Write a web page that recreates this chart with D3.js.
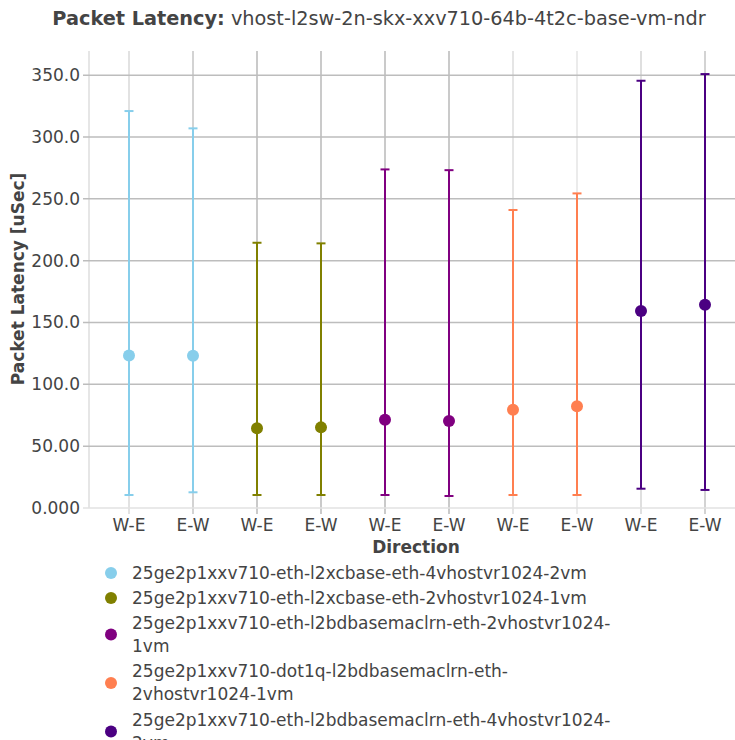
<!DOCTYPE html>
<html>
<head>
<meta charset="utf-8">
<script src="https://cdn.jsdelivr.net/npm/d3@7"></script>
<style>
  body { margin: 0; background: #fff; }
  text { font-family: "DejaVu Sans", sans-serif; fill: #444; }
</style>
</head>
<body>
<div id="chart"></div>
<script>
// categories (x positions) and tick labels
var directions = ['W-E', 'E-W', 'W-E', 'E-W', 'W-E', 'E-W', 'W-E', 'E-W', 'W-E', 'E-W'];
var yTicks = [0, 50, 100, 150, 200, 250, 300, 350];
var yTickLabels = ['0.000', '50.00', '100.0', '150.0', '200.0', '250.0', '300.0', '350.0'];

// series
var seriesNames = [
	['25ge2p1xxv710-eth-l2xcbase-eth-4vhostvr1024-2vm'],
	['25ge2p1xxv710-eth-l2xcbase-eth-2vhostvr1024-1vm'],
	['25ge2p1xxv710-eth-l2bdbasemaclrn-eth-2vhostvr1024-', '1vm'],
	['25ge2p1xxv710-dot1q-l2bdbasemaclrn-eth-', '2vhostvr1024-1vm'],
	['25ge2p1xxv710-eth-l2bdbasemaclrn-eth-4vhostvr1024-', '2vm']
];
var seriesColors = ['#87ceeb', '#808000', '#800080', '#ff7f50', '#4b0082'];
// each series has two points: W-E, E-W
var seriesIndex = [[0, 1], [2, 3], [4, 5], [6, 7], [8, 9]];
var avgValues = [[123.4, 123.2], [64.4, 65.2], [71.4, 70.3], [79.5, 82.2], [159.3, 164.4]];
var minValues = [[10.5, 12.7], [10.5, 10.5], [10.5, 9.7], [10.5, 10.5], [15.6, 14.6]];
var maxValues = [[321, 307], [214.5, 214], [273.8, 273.2], [241, 254.4], [345.5, 350.9]];

var width = 735, height = 740;
var plotLeft = 89, plotTop = 51, plotBottom = 508, plotRight = 737;
var fontSize = '17px';

var svg = d3.select('#chart').append('svg')
	.attr('width', width)
	.attr('height', height);

var x = d3.scaleLinear().domain([-0.625, 9.5]).range([plotLeft, plotRight]);
var y = d3.scaleLinear().domain([0, 350]).range([plotBottom, plotBottom - 350 * 1.2366]);

// vertical gridlines (category lines) + ticks below the axis
var gridShade = ['#d9d9d9', '#c4c4c4', '#b8b8b8', '#b8b8b8', '#b8b8b8', '#b8b8b8', '#dcdcdc', '#e4e4e4', '#d4d4d4', '#c4c4c4'];
svg.append('g').selectAll('line')
	.data(directions)
	.enter()
	.append('line')
	.attr('x1', function(d, i){ return x(i); })
	.attr('x2', function(d, i){ return x(i); })
	.attr('y1', plotTop)
	.attr('y2', plotBottom + 6)
	.attr('stroke', function(d, i){ return gridShade[i]; })
	.attr('stroke-width', 1.5);

// left plot edge line
svg.append('line')
	.attr('x1', plotLeft).attr('x2', plotLeft)
	.attr('y1', plotTop).attr('y2', plotBottom)
	.attr('stroke', '#dedede').attr('stroke-width', 1.5);

// horizontal gridlines
svg.append('g').selectAll('line')
	.data(yTicks)
	.enter()
	.append('line')
	.attr('x1', plotLeft - 6)
	.attr('x2', width)
	.attr('y1', function(d){ return y(d); })
	.attr('y2', function(d){ return y(d); })
	.attr('stroke', function(d){ return d == 0 ? '#e2e2e2' : '#bdbdbd'; })
	.attr('stroke-width', 1.5);

// y tick labels
svg.append('g').selectAll('text')
	.data(yTicks)
	.enter()
	.append('text')
	.attr('x', plotLeft - 9)
	.attr('y', function(d){ return y(d); })
	.attr('dy', '0.35em')
	.attr('text-anchor', 'end')
	.style('font-size', fontSize)
	.text(function(d, i){ return yTickLabels[i]; });

// x tick labels
svg.append('g').selectAll('text')
	.data(directions)
	.enter()
	.append('text')
	.attr('x', function(d, i){ return x(i); })
	.attr('y', plotBottom + 23)
	.attr('text-anchor', 'middle')
	.style('font-size', fontSize)
	.text(function(d){ return d; });

// error bars and markers
seriesNames.forEach(function(name, s){
	var g = svg.append('g');
	var pts = seriesIndex[s].map(function(xi, k){
		return {x: xi, avg: avgValues[s][k], lo: minValues[s][k], hi: maxValues[s][k]};
	});
	g.selectAll('.bar').data(pts).enter().append('line')
		.attr('x1', function(d){ return x(d.x); })
		.attr('x2', function(d){ return x(d.x); })
		.attr('y1', function(d){ return y(d.lo); })
		.attr('y2', function(d){ return y(d.hi); })
		.attr('stroke', seriesColors[s]).attr('stroke-width', 2);
	['lo', 'hi'].forEach(function(key){
		g.selectAll('.cap' + key).data(pts).enter().append('line')
			.attr('x1', function(d){ return x(d.x) - 4.5; })
			.attr('x2', function(d){ return x(d.x) + 4.5; })
			.attr('y1', function(d){ return y(d[key]); })
			.attr('y2', function(d){ return y(d[key]); })
			.attr('stroke', seriesColors[s]).attr('stroke-width', 2);
	});
	g.selectAll('circle').data(pts).enter().append('circle')
		.attr('cx', function(d){ return x(d.x); })
		.attr('cy', function(d){ return y(d.avg); })
		.attr('r', 6)
		.attr('fill', seriesColors[s]);
});

// title
var title = svg.append('text')
	.attr('x', 379)
	.attr('y', 25)
	.attr('text-anchor', 'middle')
	.style('font-size', '19.3px');
title.append('tspan').style('font-weight', 'bold').text('Packet Latency:');
title.append('tspan').text(' vhost-l2sw-2n-skx-xxv710-64b-4t2c-base-vm-ndr');

// axis titles
svg.append('text')
	.attr('x', 416)
	.attr('y', 553)
	.attr('text-anchor', 'middle')
	.style('font-size', fontSize)
	.style('font-weight', 'bold')
	.text('Direction');

svg.append('text')
	.attr('transform', 'translate(24,' + 279 + ') rotate(-90)')
	.attr('text-anchor', 'middle')
	.style('font-size', fontSize)
	.style('font-weight', 'bold')
	.text('Packet Latency [uSec]');

// legend
var legendY = 573;
var legend = svg.append('g');
seriesNames.forEach(function(lines, s){
	var item = legend.append('g');
	var lineH = 23;
	var markerY = legendY + (lines.length - 1) * lineH / 2;
	item.append('circle')
		.attr('cx', 111)
		.attr('cy', markerY)
		.attr('r', 6)
		.attr('fill', seriesColors[s]);
	var t = item.append('text')
		.attr('x', 132)
		.attr('y', legendY)
		.style('font-size', fontSize);
	lines.forEach(function(l, k){
		t.append('tspan').attr('x', 132).attr('dy', k == 0 ? '0.35em' : lineH).text(l);
	});
	legendY += lines.length == 1 ? 25 : 48.5;
});
</script>
</body>
</html>
